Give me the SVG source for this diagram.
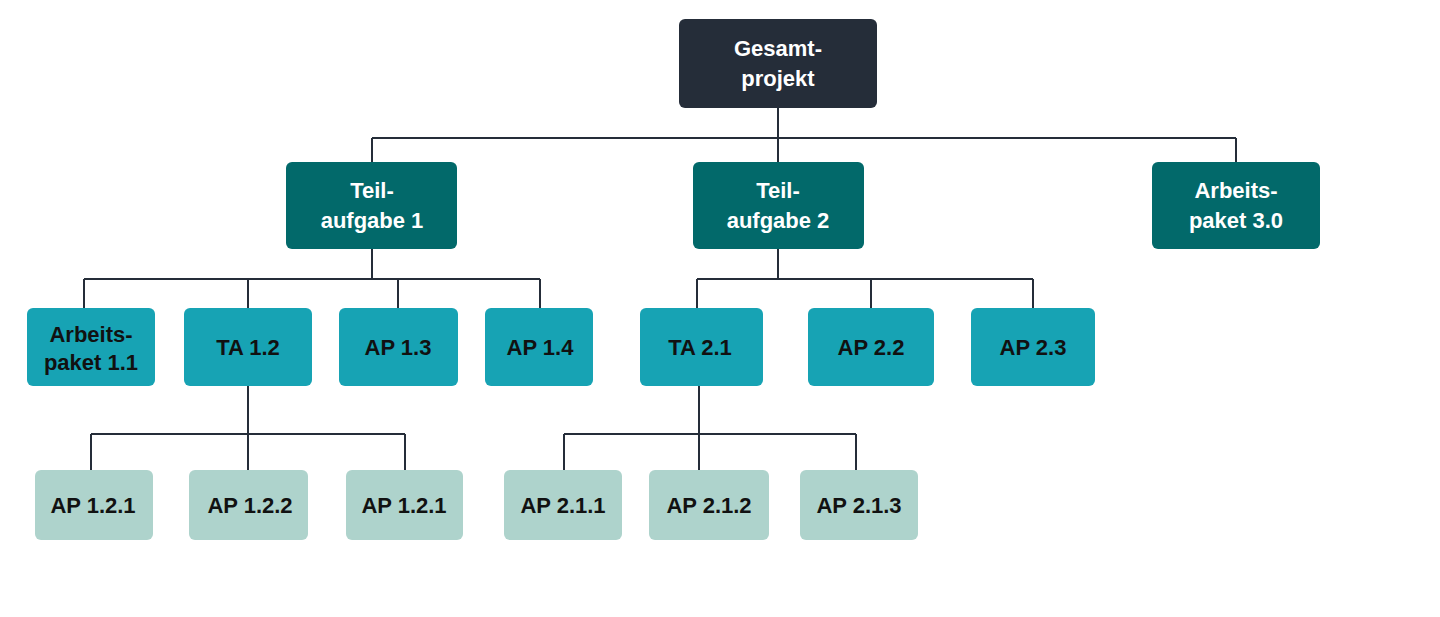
<svg xmlns="http://www.w3.org/2000/svg" width="1440" height="617" viewBox="0 0 1440 617">
<style>
text{font-family:"Liberation Sans",Arial,sans-serif;font-weight:bold;font-size:22px;text-anchor:middle}
.l0{fill:#252d39}.l1{fill:#02696a}.l2{fill:#17a3b4}.l3{fill:#aed3cc}
.w{fill:#fff}.k{fill:#111}
.c{stroke:#252d39;stroke-width:2;fill:none}
</style>
<rect width="1440" height="617" fill="#fff"/>
<g id="connectors" class="c">
<path d="M778 108V138M372 138H1236M372 138V162M778 138V162M1236 138V162"/>
<path d="M372 249V279M84 279H540M84 279V308M248 279V308M398 279V308M540 279V308"/>
<path d="M778 249V279M697 279H1033M697 279V308M871 279V308M1033 279V308"/>
<path d="M248 386V470M91 434H405M91 434V470M405 434V470"/>
<path d="M699 386V470M564 434H856M564 434V470M856 434V470"/>
</g>
<g id="n0"><rect class="l0" x="679" y="19" width="198" height="89" rx="6"/><text class="w" x="778" y="56">Gesamt-</text><text class="w" x="778" y="86">projekt</text></g>
<g id="n1"><rect class="l1" x="286" y="162" width="171" height="87" rx="6"/><text class="w" x="372" y="198">Teil-</text><text class="w" x="372" y="228">aufgabe 1</text></g>
<g id="n2"><rect class="l1" x="693" y="162" width="171" height="87" rx="6"/><text class="w" x="778" y="198">Teil-</text><text class="w" x="778" y="228">aufgabe 2</text></g>
<g id="n3"><rect class="l1" x="1152" y="162" width="168" height="87" rx="6"/><text class="w" x="1236" y="198">Arbeits-</text><text class="w" x="1236" y="228">paket 3.0</text></g>
<g id="n11"><rect class="l2" x="27" y="308" width="128" height="78" rx="6"/><text class="k" x="91" y="342">Arbeits-</text><text class="k" x="91" y="370">paket 1.1</text></g>
<g id="n12"><rect class="l2" x="184" y="308" width="128" height="78" rx="6"/><text class="k" x="248" y="355">TA 1.2</text></g>
<g id="n13"><rect class="l2" x="339" y="308" width="119" height="78" rx="6"/><text class="k" x="398" y="355">AP 1.3</text></g>
<g id="n14"><rect class="l2" x="485" y="308" width="108" height="78" rx="6"/><text class="k" x="540" y="355">AP 1.4</text></g>
<g id="n21"><rect class="l2" x="640" y="308" width="123" height="78" rx="6"/><text class="k" x="700" y="355">TA 2.1</text></g>
<g id="n22"><rect class="l2" x="808" y="308" width="126" height="78" rx="6"/><text class="k" x="871" y="355">AP 2.2</text></g>
<g id="n23"><rect class="l2" x="971" y="308" width="124" height="78" rx="6"/><text class="k" x="1033" y="355">AP 2.3</text></g>
<g id="n121"><rect class="l3" x="35" y="470" width="118" height="70" rx="6"/><text class="k" x="93" y="513">AP 1.2.1</text></g>
<g id="n122"><rect class="l3" x="189" y="470" width="119" height="70" rx="6"/><text class="k" x="250" y="513">AP 1.2.2</text></g>
<g id="n123"><rect class="l3" x="346" y="470" width="117" height="70" rx="6"/><text class="k" x="404" y="513">AP 1.2.1</text></g>
<g id="n211"><rect class="l3" x="504" y="470" width="118" height="70" rx="6"/><text class="k" x="563" y="513">AP 2.1.1</text></g>
<g id="n212"><rect class="l3" x="649" y="470" width="120" height="70" rx="6"/><text class="k" x="709" y="513">AP 2.1.2</text></g>
<g id="n213"><rect class="l3" x="800" y="470" width="118" height="70" rx="6"/><text class="k" x="859" y="513">AP 2.1.3</text></g>
</svg>
